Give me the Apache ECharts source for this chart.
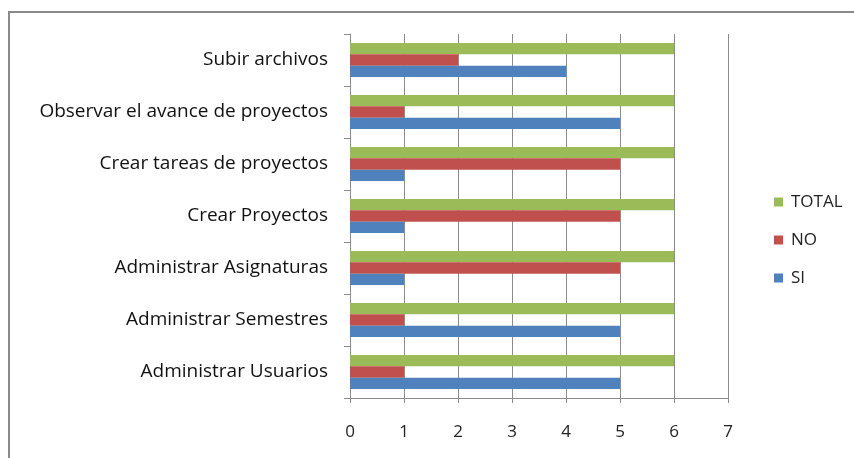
<!DOCTYPE html>
<html>
<head>
<meta charset="utf-8">
<script src="https://cdn.jsdelivr.net/npm/echarts@6/dist/echarts.min.js"></script>
<style>html,body{margin:0;padding:0;background:#fff;}#c{width:854px;height:458px;}</style>
</head>
<body>
<div id="c"></div>
<script>
const categories = ['Administrar Usuarios','Administrar Semestres','Administrar Asignaturas','Crear Proyectos','Crear tareas de proyectos','Observar el avance de proyectos','Subir archivos'];
const siValues = [5,5,1,1,1,5,4];
const noValues = [1,1,5,5,5,1,2];
const totalValues = [6,6,6,6,6,6,6];
const xTicks = [0,1,2,3,4,5,6,7];

const chart = echarts.init(document.getElementById('c'), null, {renderer:'canvas'});
const font = '"Open Sans", sans-serif';
chart.setOption({
  animation:false,
  graphic:[
    {type:'line', shape:{x1:8,y1:12,x2:854,y2:12}, style:{stroke:'#8a8a8a', lineWidth:2}},
    {type:'line', shape:{x1:9,y1:12,x2:9,y2:458}, style:{stroke:'#8a8a8a', lineWidth:2}}
  ],
  grid:{left:350, top:34, width:378, height:364, containLabel:false},
  legend:{
    orient:'vertical', left:769, top:186, itemGap:16, itemWidth:9, itemHeight:9,
    icon:'rect', data:['TOTAL','NO','SI'],
    textStyle:{fontFamily:font, fontSize:17, color:'#222', lineHeight:22, padding:[0,0,0,3]}
  },
  xAxis:{
    type:'value', min:0, max:7, interval:1,
    axisLine:{show:true, lineStyle:{color:'#8c8c8c', width:1}},
    axisTick:{show:true, length:5, lineStyle:{color:'#8c8c8c'}},
    axisLabel:{fontFamily:font, fontSize:17, color:'#222', margin:26,
      formatter:v=>String(xTicks[v] ?? v)},
    splitLine:{show:true, lineStyle:{color:'#8c8c8c', width:1}}
  },
  yAxis:{
    type:'category', data:categories,
    axisLine:{show:true, lineStyle:{color:'#8c8c8c'}},
    axisTick:{show:true, length:6, lineStyle:{color:'#8c8c8c'}},
    axisLabel:{fontFamily:font, fontSize:19, color:'#111', margin:22, padding:[3,0,0,0]}
  },
  series:[
    {name:'TOTAL', type:'bar', data:totalValues, barGap:'0%', barCategoryGap:'35%', itemStyle:{color:'#9bbb59'}},
    {name:'NO', type:'bar', data:noValues, barGap:'0%', barCategoryGap:'35%', itemStyle:{color:'#c0504d'}},
    {name:'SI', type:'bar', data:siValues, barGap:'0%', barCategoryGap:'35%', itemStyle:{color:'#4f81bd'}}
  ]
});
</script>
</body>
</html>
